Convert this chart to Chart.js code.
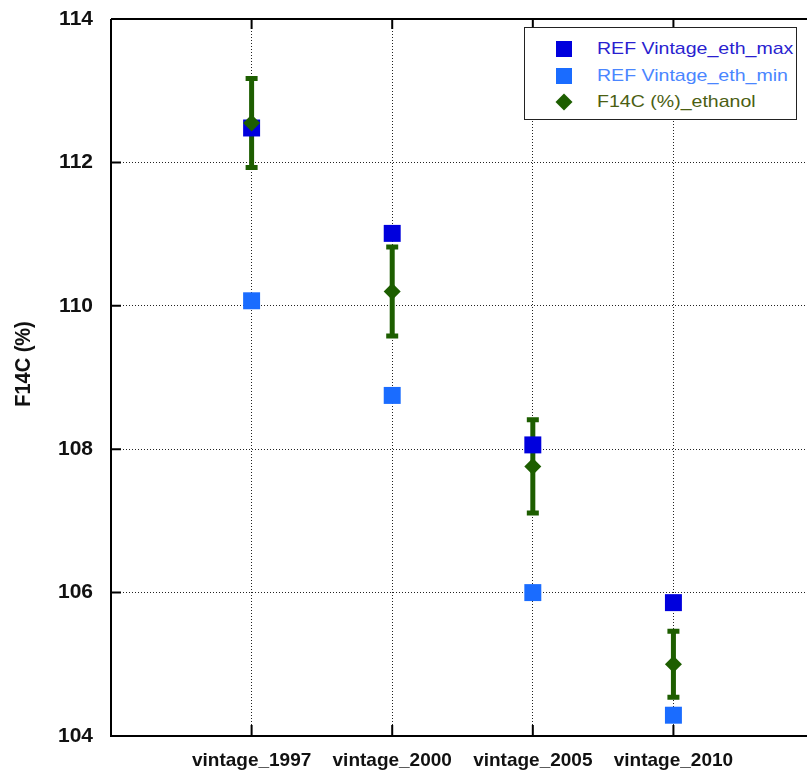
<!DOCTYPE html>
<html>
<head>
<meta charset="utf-8">
<script src="https://cdn.jsdelivr.net/npm/chart.js@4.4.1/dist/chart.umd.min.js"></script>
<style>
  body { margin: 0; background: #fff; }
  #wrap { position: relative; width: 807px; height: 775px; overflow: hidden; }
  #legend {
    position: absolute; left: 524px; top: 27px; width: 271px; height: 91px;
    border: 1.5px solid #222; background: #fff;
    font-family: "Liberation Sans", Arial, sans-serif; font-size: 17px;
  }
  .row { position: absolute; left: 0; height: 20px; line-height: 20px; white-space: nowrap; }
  .mk { position: absolute; left: 31px; top: 2px; width: 16px; height: 16px; }
  .dm { left: 33px; top: 4px; width: 12px; height: 12px; transform: rotate(45deg); }
  .tx { position: absolute; left: 72px; top: 0; display: inline-block; transform: scaleX(1.15); transform-origin: left center; }
</style>
</head>
<body>
<div id="wrap">
  <canvas id="myChart" width="807" height="775"></canvas>
  <div id="legend"></div>
</div>
<script>
const categories = ['vintage_1997', 'vintage_2000', 'vintage_2005', 'vintage_2010'];
const refMax = [112.48, 111.01, 108.06, 105.86];
const refMin = [110.07, 108.75, 106.00, 104.29];
const ethanol = [112.55, 110.20, 107.76, 105.00];
const ethanolErr = [0.62, 0.62, 0.65, 0.46];
const yTicks = [104, 106, 108, 110, 112, 114];
const yTitle = 'F14C (%)';

const seriesNames = ['REF Vintage_eth_max', 'REF Vintage_eth_min', 'F14C (%)_ethanol'];
const markerColors = ['#0000dd', '#1a6cff', '#1d5e00'];
const textColors = ['#2a1fd0', '#4a86ff', '#4b5e12'];
const font = '"Liberation Sans", Arial, sans-serif';

const toPoints = vals => vals.map((v, i) => ({ x: i + 1, y: v }));

// error bars, the frame with inward ticks, and the y title
const framePlugin = {
    id: 'framePlugin',
    beforeDatasetsDraw(chart) {
        const { ctx, chartArea: a, scales: { x, y } } = chart;
        ctx.save();
        ctx.strokeStyle = '#000';
        ctx.lineWidth = 2;
        ctx.beginPath();
        ctx.moveTo(a.left, a.top); ctx.lineTo(a.left, a.bottom); ctx.lineTo(a.right, a.bottom);
        ctx.moveTo(a.left, a.top); ctx.lineTo(a.right, a.top);
        yTicks.forEach(v => {
            const py = y.getPixelForValue(v);
            ctx.moveTo(a.left, py); ctx.lineTo(a.left + 10, py);
        });
        categories.forEach((c, i) => {
            const px = x.getPixelForValue(i + 1);
            ctx.moveTo(px, a.bottom); ctx.lineTo(px, a.bottom - 11);
            ctx.moveTo(px, a.top); ctx.lineTo(px, a.top + 10);
        });
        ctx.stroke();

        ctx.strokeStyle = markerColors[2];
        ctx.lineWidth = 5;
        ethanol.forEach((v, i) => {
            const px = x.getPixelForValue(i + 1);
            const top = y.getPixelForValue(v + ethanolErr[i]);
            const bot = y.getPixelForValue(v - ethanolErr[i]);
            ctx.beginPath();
            ctx.moveTo(px, top); ctx.lineTo(px, bot);
            ctx.moveTo(px - 6, top); ctx.lineTo(px + 6, top);
            ctx.moveTo(px - 6, bot); ctx.lineTo(px + 6, bot);
            ctx.stroke();
        });

        // y axis title, sits a little above the middle of the axis
        ctx.translate(24, 364);
        ctx.rotate(-Math.PI / 2);
        ctx.scale(1, 1.12);
        ctx.fillStyle = '#111';
        ctx.font = 'bold 20px ' + font;
        ctx.textAlign = 'center';
        ctx.textBaseline = 'middle';
        ctx.fillText(yTitle, 0, 0);
        ctx.restore();
    }
};

const ctx = document.getElementById('myChart').getContext('2d');
new Chart(ctx, {
    type: 'scatter',
    data: {
        datasets: [
            { label: seriesNames[2], data: toPoints(ethanol), order: 0, pointStyle: 'rectRot', pointRadius: 8.5,
              backgroundColor: markerColors[2], borderColor: markerColors[2], borderWidth: 0 },
            { label: seriesNames[0], data: toPoints(refMax), order: 1, pointStyle: 'rect', pointRadius: 12,
              backgroundColor: markerColors[0], borderColor: markerColors[0], borderWidth: 0 },
            { label: seriesNames[1], data: toPoints(refMin), order: 2, pointStyle: 'rect', pointRadius: 12,
              backgroundColor: markerColors[1], borderColor: markerColors[1], borderWidth: 0 }
        ]
    },
    options: {
        responsive: false,
        animation: false,
        layout: { autoPadding: false, padding: { top: 19, right: 0, left: 0, bottom: 0 } },
        plugins: { legend: { display: false }, tooltip: { enabled: false } },
        scales: {
            x: {
                type: 'linear',
                min: 0,
                max: 4.95,
                afterBuildTicks: s => { s.ticks = categories.map((c, i) => ({ value: i + 1 })); },
                afterFit: s => { s.height = 39; s.paddingLeft = 0; s.paddingRight = 0; },
                grid: { color: '#222', lineWidth: 1, drawTicks: false },
                border: { display: false, dash: [1, 2] },
                ticks: {
                    autoSkip: false, maxRotation: 0, padding: 13, color: '#111',
                    font: { family: font, size: 19, weight: 'bold' },
                    callback: v => categories[v - 1] || ''
                }
            },
            y: {
                min: 104,
                max: 114,
                afterBuildTicks: s => { s.ticks = yTicks.map(v => ({ value: v })); },
                afterFit: s => { s.width = 111; s.paddingTop = 0; s.paddingBottom = 0; },
                grid: { color: '#222', lineWidth: 1, drawTicks: false },
                border: { display: false, dash: [1, 2] },
                ticks: { padding: 18, color: '#111', font: { family: font, size: 21, weight: 'bold' } }
            }
        }
    },
    plugins: [framePlugin]
});

// legend drawn as an html box inside the plot
const legend = document.getElementById('legend');
const legendTops = [11, 38, 64];
seriesNames.forEach((name, i) => {
    const row = document.createElement('div');
    row.className = 'row';
    row.style.top = legendTops[i] + 'px';
    row.innerHTML = `<div class="mk${i === 2 ? ' dm' : ''}" style="background:${markerColors[i]}"></div>` +
        `<span class="tx" style="color:${textColors[i]}">${name}</span>`;
    legend.appendChild(row);
});
</script>
</body>
</html>
